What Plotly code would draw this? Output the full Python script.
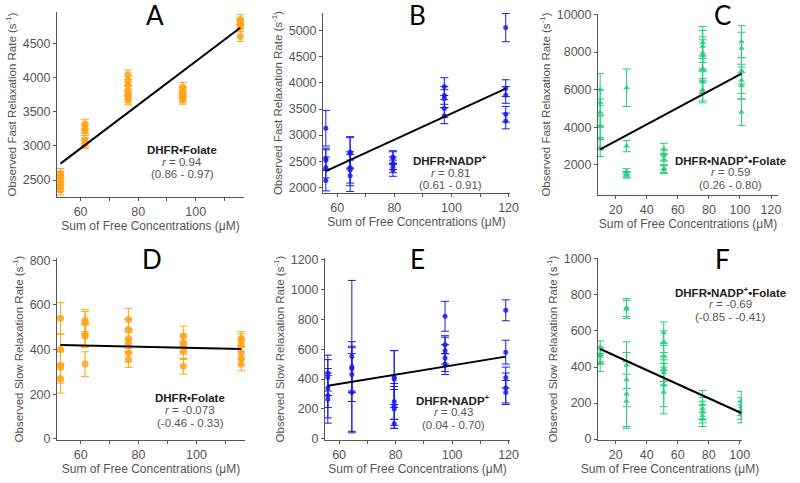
import plotly.graph_objects as go

# ---- data ----
# A: fast rate, DHFR-Folate
a_x = [53]*6 + [61.5]*6 + [76.5]*7 + [95.5]*6 + [115.5]*5
a_y = [2600, 2550, 2500, 2450, 2400, 2350,
       3320, 3250, 3220, 3080, 3050, 3030,
       4040, 3950, 3900, 3800, 3750, 3700, 3670,
       3860, 3800, 3780, 3730, 3700, 3680,
       4850, 4800, 4780, 4750, 4600]
a_err = [70]*30
a_fit_x = [53, 115.5]
a_fit_y = [2740, 4730]

# B: fast rate, DHFR-NADP+
b_x = [56]*5 + [64.5]*5 + [79.5]*5 + [97.5]*5 + [119]*5
b_y = [3130, 2550, 2520, 2380, 2130,
       2670, 2650, 2380, 2330, 2220,
       2580, 2560, 2460, 2400, 2330,
       3930, 3760, 3700, 3510, 3370,
       5060, 3900, 3770, 3400, 3270]
b_err = [340, 200, 200, 200, 200,
         300, 300, 300, 300, 300,
         120, 120, 120, 120, 120,
         170, 170, 170, 170, 150,
         270, 160, 160, 150, 150]
b_fit_x = [56, 119]
b_fit_y = [2310, 3890]

# C: fast rate, DHFR-NADP+-Folate
c_x = [10]*6 + [27]*5 + [51]*5 + [76]*8 + [101]*6
c_y = [6000, 5300, 4800, 4050, 3400, 2900,
       6100, 3000, 1650, 1500, 1450,
       2850, 2500, 2300, 1800, 1750,
       8500, 8300, 7950, 7800, 7100, 6400, 6000, 5900,
       8550, 8200, 7000, 6500, 6200, 4800]
c_err = [850, 700, 700, 600, 600, 450,
         1000, 300, 150, 150, 150,
         300, 300, 300, 200, 200,
         850, 850, 850, 850, 700, 600, 600, 600,
         850, 850, 700, 700, 700, 700]
c_fit_x = [10, 101]
c_fit_y = [2830, 6850]

# D: slow rate, DHFR-Folate
d_x = [53]*5 + [61.5]*5 + [76.5]*6 + [95.5]*5 + [115.5]*6
d_y = [540, 400, 330, 320, 270,
       530, 520, 465, 460, 335,
       535, 490, 450, 430, 385, 355,
       460, 430, 420, 395, 325,
       450, 440, 420, 385, 360, 335]
d_err = [70, 70, 70, 70, 65,
         50, 50, 50, 50, 55,
         50, 45, 45, 45, 40, 35,
         45, 40, 40, 40, 35,
         30, 30, 30, 30, 30, 30]
d_fit_x = [53, 115.5]
d_fit_y = [420, 402]

# E: slow rate, DHFR-NADP+
e_x = [56]*5 + [64.5]*5 + [79.5]*6 + [97.5]*5 + [119]*5
e_y = [440, 410, 340, 290, 265,
       550, 480, 470, 430, 310,
       410, 400, 250, 220, 200, 100,
       820, 630, 590, 540, 500,
       860, 580, 410, 340, 310]
e_err = [120, 120, 130, 150, 160,
         510, 170, 150, 180, 260,
         180, 190, 120, 130, 130, 30,
         100, 60, 90, 90, 70,
         70, 80, 70, 100, 80]
e_fit_x = [56, 119]
e_fit_y = [355, 550]

# F: slow rate, DHFR-NADP+-Folate
f_x = [10]*4 + [27]*6 + [51]*7 + [76]*5 + [101]*4
f_y = [510, 470, 460, 420,
       730, 720, 410, 330, 250, 210,
       590, 540, 460, 390, 370, 300, 260,
       190, 170, 150, 130, 110,
       210, 180, 160, 140]
f_err = [35, 40, 40, 45,
         50, 50, 130, 150, 180, 150,
         60, 60, 60, 70, 70, 120, 120,
         80, 60, 60, 60, 40,
         55, 50, 50, 50]
f_fit_x = [10, 101]
f_fit_y = [500, 145]

ORANGE = "#FBA519"
BLUE = "#1A1AF0"
GREEN = "#23CC7A"
GREY = "#555555"
FONT = "Liberation Sans, Arial"

panels = [
    dict(x=a_x, y=a_y, e=a_err, fx=a_fit_x, fy=a_fit_y, c=ORANGE, s="circle", ms=7, L="A", lx=155, ly=15,
         xr=[51.8, 116.8], yr=[2252, 4960], xd=[57, 244], yd=[12, 197], yt="Observed Fast Relaxation Rate (s<sup>-1</sup>)",
         ydt=500, lab="<b>DHFR•Folate</b>", r="0.94", ci="(0.86 - 0.97)", ax=182, ay=162),
    dict(x=b_x, y=b_y, e=b_err, fx=b_fit_x, fy=b_fit_y, c=BLUE, s="circle", ms=5, L="B", lx=417, ly=15,
         xr=[55, 120.5], yr=[1890, 5340], xd=[323, 510], yd=[13, 193], yt="Observed Fast Relaxation Rate (s<sup>-1</sup>)",
         ydt=500, lab="<b>DHFR•NADP<sup>+</sup></b>", r="0.81", ci="(0.61 - 0.91)", ax=450, ay=172.5),
    dict(x=c_x, y=c_y, e=c_err, fx=c_fit_x, fy=c_fit_y, c=GREEN, s="triangle-up", ms=6, L="C", lx=722, ly=15,
         xr=[8.6, 124.5], yr=[400, 10020], xd=[598, 778], yd=[14, 195], yt="Observed Fast Relaxation Rate (s<sup>-1</sup>)",
         ydt=2000, lab="<b>DHFR•NADP<sup>+</sup>•Folate</b>", r="0.59", ci="(0.26 - 0.80)", ax=730, ay=172),
    dict(x=d_x, y=d_y, e=d_err, fx=d_fit_x, fy=d_fit_y, c=ORANGE, s="circle", ms=7, L="D", lx=152, ly=259,
         xr=[51.8, 116.8], yr=[-5, 810], xd=[57, 245], yd=[258, 440], yt="Observed Slow Relaxation Rate (s<sup>-1</sup>)",
         ydt=200, lab="<b>DHFR•Folate</b>", r="-0.073", ci="(-0.46 - 0.33)", ax=190, ay=410),
    dict(x=e_x, y=e_y, e=e_err, fx=e_fit_x, fy=e_fit_y, c=BLUE, s="circle", ms=5, L="E", lx=417, ly=259,
         xr=[55, 120.5], yr=[-8, 1210], xd=[325, 510], yd=[258, 440], yt="Observed Slow Relaxation Rate (s<sup>-1</sup>)",
         ydt=200, lab="<b>DHFR•NADP<sup>+</sup></b>", r="0.43", ci="(0.04 - 0.70)", ax=453, ay=412),
    dict(x=f_x, y=f_y, e=f_err, fx=f_fit_x, fy=f_fit_y, c=GREEN, s="triangle-up", ms=6, L="F", lx=722, ly=259,
         xr=[8.6, 101.5], yr=[-5, 1005], xd=[598, 742], yd=[258, 440], yt="Observed Slow Relaxation Rate (s<sup>-1</sup>)",
         ydt=200, lab="<b>DHFR•NADP<sup>+</sup>•Folate</b>", r="-0.69", ci="(-0.85 - -0.41)", ax=730, ay=304),
]

# full-page figure; the default 8px body margin is removed after plotting
W, H = 800, 483
LINE_GAP = 12.5


def fx_(px):
    return px / W


def fy_(py):
    return 1 - py / H


fig = go.Figure()
annotations = []
layout = {}

for i, p in enumerate(panels, start=1):
    xa = "x" if i == 1 else f"x{i}"
    ya = "y" if i == 1 else f"y{i}"
    fig.add_trace(go.Scatter(
        x=p["x"], y=p["y"], mode="markers", xaxis=xa, yaxis=ya,
        marker=dict(color=p["c"], symbol=p["s"], size=p["ms"], opacity=0.85),
        error_y=dict(type="data", array=p["e"], color=p["c"], thickness=1, width=4),
        showlegend=False))
    fig.add_trace(go.Scatter(
        x=p["fx"], y=p["fy"], mode="lines", xaxis=xa, yaxis=ya,
        line=dict(color="black", width=2), showlegend=False))

    axis_common = dict(showline=True, linecolor=GREY, linewidth=1, ticks="outside", ticklen=3,
                       tickcolor=GREY, showgrid=False, zeroline=False, automargin=False,
                       exponentformat="none", tickformat="d",
                       tickfont=dict(family=FONT, size=12.5, color=GREY))
    xkey = "xaxis" if i == 1 else f"xaxis{i}"
    ykey = "yaxis" if i == 1 else f"yaxis{i}"
    xdict = dict(axis_common, domain=[fx_(p["xd"][0]), fx_(p["xd"][1])], range=p["xr"],
                 anchor=ya, dtick=20, tick0=0,
                 title=dict(text="Sum of Free Concentrations (μM)", standoff=0,
                            font=dict(family=FONT, size=12, color=GREY)))
    if p["L"] in "ABDE":
        xdict["minor"] = dict(ticks="outside", ticklen=3, dtick=10, tickcolor=GREY)
    layout[xkey] = xdict
    layout[ykey] = dict(axis_common, domain=[fy_(p["yd"][1]), fy_(p["yd"][0])], range=p["yr"],
                        anchor=xa, dtick=p["ydt"],
                        title=dict(text=p["yt"], standoff=3,
                                   font=dict(family=FONT, size=11.5, color=GREY)))

    # panel letter
    annotations.append(dict(text=p["L"], x=fx_(p["lx"]), y=fy_(p["ly"]), xref="paper", yref="paper",
                            showarrow=False, xanchor="center", yanchor="middle",
                            font=dict(family="Lato, Open Sans", size=26, color="black")))
    # stats label, three lines around the middle one
    lines = [(p["lab"], "#222222", -LINE_GAP), (f"<i>r</i> = {p['r']}", GREY, 0), (p["ci"], GREY, LINE_GAP)]
    for txt, col, dy in lines:
        annotations.append(dict(text=txt, x=fx_(p["ax"]), y=fy_(p["ay"] + dy), xref="paper", yref="paper",
                                showarrow=False, xanchor="center", yanchor="middle",
                                font=dict(family=FONT, size=11.5, color=col)))

fig.update_layout(width=W, height=H, margin=dict(l=0, r=0, t=0, b=0),
                  paper_bgcolor="white", plot_bgcolor="white",
                  annotations=annotations, **layout)

fig.write_html("out.html", config={"displayModeBar": False},
               post_script="document.body.style.margin='0px'; document.body.style.overflow='hidden';")
